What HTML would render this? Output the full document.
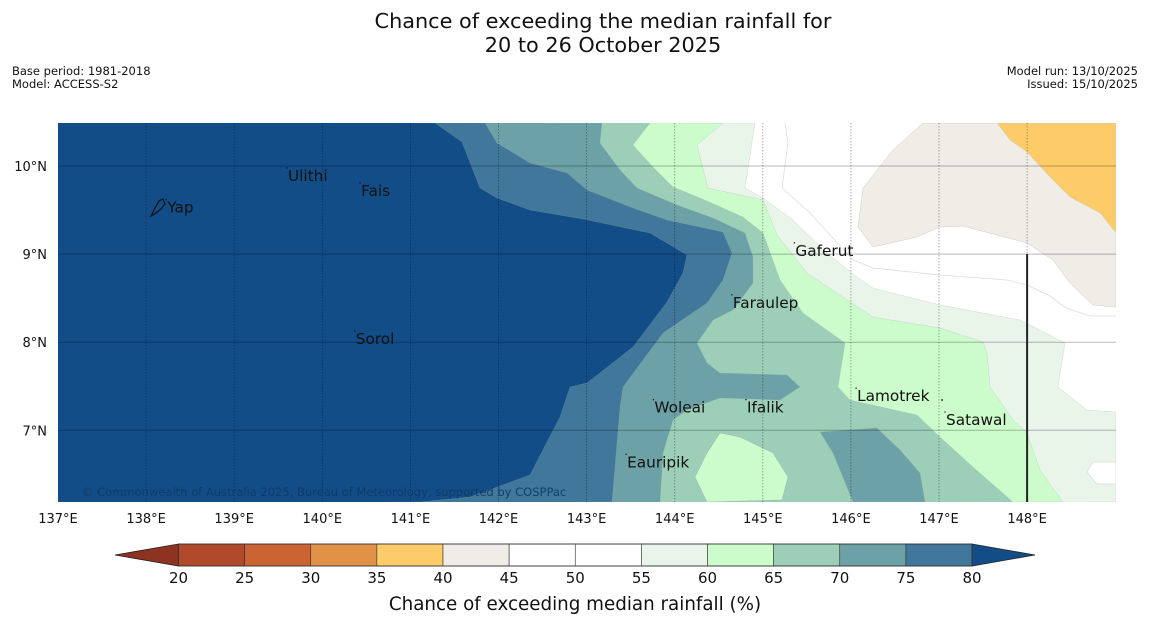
<!DOCTYPE html>
<html><head><meta charset="utf-8"><style>
html,body{margin:0;padding:0;background:#fff;}
svg{display:block;font-family:"DejaVu Sans","Liberation Sans",sans-serif;}
</style></head><body>
<svg id="fig" width="1150" height="644" viewBox="0 0 1150 644" xmlns="http://www.w3.org/2000/svg">
<rect width="1150" height="644" fill="#ffffff"/>
<text x="603" y="28" text-anchor="middle" font-size="20.8" fill="#111">Chance of exceeding the median rainfall for</text>
<text x="603" y="52" text-anchor="middle" font-size="20.8" fill="#111">20 to 26 October 2025</text>
<text x="12" y="75" font-size="11.5" fill="#111">Base period: 1981-2018</text>
<text x="12" y="88" font-size="11.5" fill="#111">Model: ACCESS-S2</text>
<text x="1138" y="75" text-anchor="end" font-size="11.5" fill="#111">Model run: 13/10/2025</text>
<text x="1138" y="88" text-anchor="end" font-size="11.5" fill="#111">Issued: 15/10/2025</text>
<defs><clipPath id="mapclip"><rect x="58" y="123" width="1058" height="379"/></clipPath></defs>
<g id="map" clip-path="url(#mapclip)"></g>
<g id="overlay"></g>
<g id="cbar"></g>
<text x="575" y="610" text-anchor="middle" font-size="18.3" fill="#111">Chance of exceeding median rainfall (%)</text>
</svg>
<script>
// ---- data ----
const cbLevels = [20,25,30,35,40,45,50,55,60,65,70,75,80];
const cbColors = ["#b04a2b","#cc6333","#e29247","#fdcc69","#f0ece6","#ffffff","#ffffff","#eaf5ea","#ccfccb","#9dcfb8","#6ca2a7","#41779a"];
const cbUnder = "#8e3222";
const cbOver = "#134d87";
const lonTicks = [137,138,139,140,141,142,143,144,145,146,147,148];
const latTicks = [10,9,8,7];
const islandNames = ["Ulithi","Fais","Yap","Gaferut","Faraulep","Sorol","Lamotrek","Woleai","Ifalik","Satawal","Eauripik"];
const islandLon = [139.61,140.44,138.24,145.37,144.66,140.38,146.07,143.77,144.82,147.08,143.46];
const islandLat = [9.83,9.66,9.47,8.98,8.39,7.98,7.33,7.20,7.20,7.06,6.58];

// ---- axis functions ----
const X0=58, X1=1116, Y0=123, Y1=502;
function xLon(lon){ return 58 + (lon-137)*88.1; }
function yLat(lat){ return 166 + (10-lat)*88.1; }
function cbX(v){ return 178.5 + (v-20)*(972-178.5)/60; }

const NS="http://www.w3.org/2000/svg";
function mk(tag, attrs, parent){ const e=document.createElementNS(NS,tag); for(const k in attrs) e.setAttribute(k,attrs[k]); parent.appendChild(e); return e; }
const map=document.getElementById('map');
const ov=document.getElementById('overlay');
const cb=document.getElementById('cbar');

const c80=[[435,123],[462,142],[480,188],[497,198],[530,210],[583,219],[650,233],[687,255],[683,273],[667,302],[633,347],[587,383],[570,387],[560,417],[530,475],[470,497],[420,502]];
const c75=[[485,123],[497,143],[530,163],[567,173],[587,190],[633,208],[667,220],[723,232],[732,253],[723,280],[707,303],[663,333],[623,387],[620,407],[612,502]];
const c70=[[602,123],[600,143],[620,170],[637,188],[677,205],[713,218],[745,233],[753,257],[753,283],[733,310],[713,320],[697,343],[707,363],[720,373],[787,375],[800,387],[780,400],[720,398],[687,410],[673,420],[663,453],[660,502]];
const c65=[[650,123],[633,145],[653,167],[673,187],[700,198],[743,217],[763,233],[780,280],[803,313],[845,343],[838,387],[850,400],[917,415],[940,437],[973,467],[1013,502]];
const c60=[[723,123],[697,145],[708,188],[763,200],[777,235],[807,273],[847,300],[873,317],[940,328],[983,342],[987,353],[990,387],[1013,420],[1027,433],[1040,470],[1063,502]];
const c55=[[755,123],[745,188],[763,198],[793,220],[827,253],[857,277],[873,288],[940,305],[1020,320],[1040,330],[1065,343],[1058,387],[1087,410],[1116,412],[1116,502]];
const c50line=[[785,123],[788,143],[782,188],[810,213],[853,260],[873,268],[940,275],[1007,280],[1027,285],[1050,296],[1066,308],[1090,316],[1116,316]];
const isl70=[[820,432],[877,428],[900,450],[920,473],[925,502],[853,502],[833,453]];
const isl60=[[720,433],[740,437],[773,453],[788,477],[782,500],[707,502],[695,477],[707,453]];
const isl50=[[1093,462],[1116,462],[1116,484],[1097,484],[1087,472]];
const beige=[[923,123],[893,150],[863,188],[858,227],[873,247],[917,237],[940,227],[963,226],[1027,243],[1053,260],[1070,283],[1093,305],[1116,307],[1116,123]];
const orange=[[997,123],[1010,140],[1027,152],[1050,177],[1070,197],[1100,213],[1116,233],[1116,123]];

function region(pts){
  const p=pts.slice();
  p.push([X0-2,Y1+2]); p.push([X0-2,Y0-2]);
  return p.map(a=>a.join(',')).join(' ');
}
function poly(pts){ return pts.map(a=>a.join(',')).join(' '); }

let el;
el=mk('rect',{x:X0,y:Y0,width:X1-X0,height:Y1-Y0,fill:'#ffffff'},map);


el=mk('polyline',{points:poly(c50line),fill:'none',stroke:'#ddd','stroke-width':0.8},map);


const layers=[[c55,cbColors[7],'contour-55-60'],[c60,cbColors[8],'contour-60-65'],[c65,cbColors[9],'contour-65-70'],[c70,cbColors[10],'contour-70-75'],[c75,cbColors[11],'contour-75-80'],[c80,cbOver,'contour-above-80']];
layers.forEach(l=>{
  el=mk('polygon',{points:region(l[0]),fill:l[1],stroke:'#9aa','stroke-width':0.4,'stroke-opacity':0.5},map);
  
  
});
el=mk('polygon',{points:poly(isl60),fill:cbColors[8],stroke:'#9aa','stroke-width':0.4},map);


el=mk('polygon',{points:poly(isl70),fill:cbColors[10],stroke:'#9aa','stroke-width':0.4},map);


el=mk('polygon',{points:poly(isl50),fill:'#ffffff',stroke:'#ccc','stroke-width':0.5},map);


el=mk('polygon',{points:poly(beige),fill:cbColors[4],stroke:'#ccc','stroke-width':0.5},map);


el=mk('polygon',{points:poly(orange),fill:cbColors[3],stroke:'#ccc','stroke-width':0.5},map);



latTicks.forEach(v=>{
  el=mk('line',{x1:X0,x2:X1,y1:yLat(v),y2:yLat(v),stroke:'#000','stroke-opacity':0.28,'stroke-width':1},map);
  
  
  el=mk('text',{x:47,y:yLat(v)+5,'text-anchor':'end','font-size':13,fill:'#111'},ov);
  el.textContent=v+'°N';
  
  
});
lonTicks.forEach(v=>{
  if(v>137){
    el=mk('line',{x1:xLon(v),x2:xLon(v),y1:Y0,y2:Y1,stroke:'#000','stroke-opacity':0.4,'stroke-width':0.8,'stroke-dasharray':'1.5,1.5'},map);
    
    
  }
  el=mk('text',{x:xLon(v),y:523,'text-anchor':'middle','font-size':13,fill:'#111'},ov);
  el.textContent=v+'°E';
  
  
});
el=mk('line',{x1:xLon(148),x2:xLon(148),y1:yLat(9),y2:Y1,stroke:'#222','stroke-width':2},map);



el=mk('path',{d:'M151,216 L155,208 L159,201 L163,199 L165,204 L161,209 L156,213 Z',fill:'none',stroke:'#111','stroke-width':1.2},map);



islandNames.forEach((n,i)=>{
  const x=xLon(islandLon[i]), y=yLat(islandLat[i]);
  el=mk('circle',{cx:x-1,cy:y-13,r:0.7,fill:'#111'},map);
  
  
  el=mk('text',{x:x,y:y,'font-size':15.3,fill:'#111'},map);
  el.textContent=n;
  
  
});
el=mk('circle',{cx:942,cy:400,r:0.9,fill:'#111'},map);



el=mk('text',{x:82,y:496,'font-size':11.5,fill:'#0d3a66','fill-opacity':0.9},map);
el.textContent='© Commonwealth of Australia 2025, Bureau of Meteorology, supported by COSPPac';



const cy0=544, cy1=566;
el=mk('polygon',{points:`${cbX(20)},${cy0} 115,${(cy0+cy1)/2} ${cbX(20)},${cy1}`,fill:cbUnder,stroke:'#222','stroke-width':0.8},cb);


el=mk('polygon',{points:`${cbX(80)},${cy0} 1035,${(cy0+cy1)/2} ${cbX(80)},${cy1}`,fill:cbOver,stroke:'#222','stroke-width':0.8},cb);


cbColors.forEach((c,i)=>{
  el=mk('rect',{x:cbX(cbLevels[i]),y:cy0,width:cbX(cbLevels[i+1])-cbX(cbLevels[i]),height:cy1-cy0,fill:c,stroke:'#333','stroke-width':0.6},cb);
  
  
});
el=mk('rect',{x:cbX(20),y:cy0,width:cbX(80)-cbX(20),height:cy1-cy0,fill:'none',stroke:'#333','stroke-width':0.8},cb);


cbLevels.forEach(v=>{
  el=mk('text',{x:cbX(v),y:583,'text-anchor':'middle','font-size':15,fill:'#111'},cb);
  el.textContent=v;
  
  
});
</script>
</body></html>
